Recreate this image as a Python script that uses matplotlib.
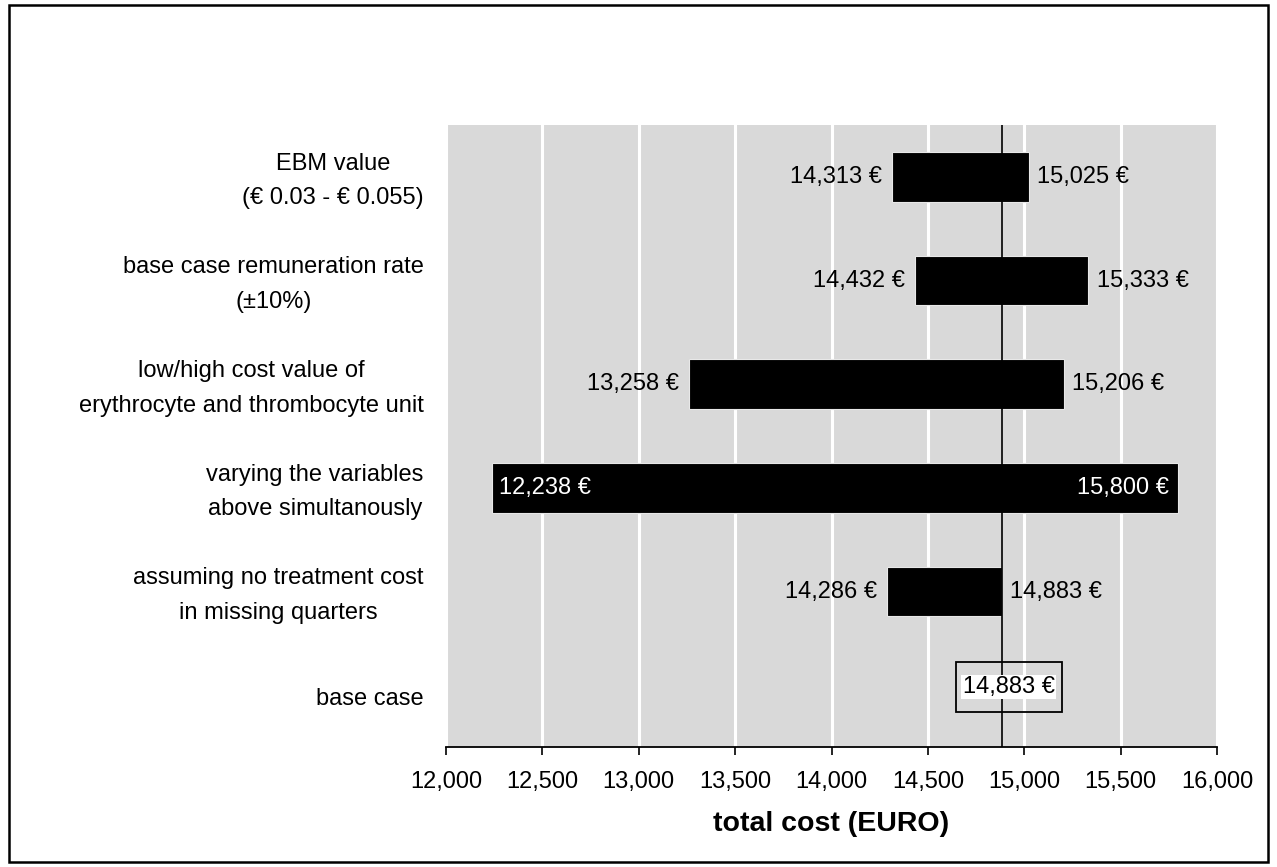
import matplotlib.pyplot as plt
import matplotlib.patches as mpatches
import matplotlib.transforms as mtransforms
import numpy as np

plt.rcParams['font.family'] = ['Liberation Sans', 'DejaVu Sans']

# data
categories = ['EBM value\n(€ 0.03 - € 0.055)',
              'base case remuneration rate\n(±10%)',
              'low/high cost value of\nerythrocyte and thrombocyte unit',
              'varying the variables\nabove simultanously',
              'assuming no treatment cost\nin missing quarters',
              'base case']
low_vals = [14313, 14432, 13258, 12238, 14286]
high_vals = [15025, 15333, 15206, 15800, 14883]
base_value = 14883
inside_labels = [False, False, False, True, False]
xticks = np.arange(12000, 16001, 500)

FS = 17


def euro(v):
    return '{:,} €'.format(v)


fig = plt.figure(figsize=(12.77, 8.67), dpi=100)
ax = fig.add_axes([0.3493, 0.1384, 0.6037, 0.7174])
ax.set_facecolor('#d9d9d9')

# outer frame
fig.patches.append(mpatches.Rectangle((0.007, 0.006), 0.986, 0.988, transform=fig.transFigure,
                                      fill=False, edgecolor='black', linewidth=1.8))

y = np.arange(len(categories))
for i in range(len(low_vals)):
    lo, hi = low_vals[i], high_vals[i]
    ax.barh(y[i], hi - lo, left=lo, height=0.48, color='black',
            edgecolor='#e8e8e8', linewidth=0.8, zorder=3)
    if inside_labels[i]:
        ax.annotate(euro(lo), (lo, y[i]), xytext=(5, 0), textcoords='offset points',
                    ha='left', va='center', color='white', fontsize=FS, zorder=5)
        ax.annotate(euro(hi), (hi, y[i]), xytext=(-7, 0), textcoords='offset points',
                    ha='right', va='center', color='white', fontsize=FS, zorder=5)
    else:
        ax.annotate(euro(lo), (lo, y[i]), xytext=(-7, 0), textcoords='offset points',
                    ha='right', va='center', color='black', fontsize=FS, zorder=5)
        ax.annotate(euro(hi), (hi, y[i]), xytext=(6, 0), textcoords='offset points',
                    ha='left', va='center', color='black', fontsize=FS, zorder=5)

# base case label
base_txt = ax.annotate(euro(base_value), (base_value, y[-1]), xytext=(5, 6),
                       textcoords='offset points', ha='center', va='center',
                       fontsize=FS, zorder=6,
                       bbox=dict(boxstyle='square,pad=0.05', facecolor='white', edgecolor='none'))

ax.axvline(base_value, color='black', linewidth=1.2, zorder=4)

ax.set_xlim(12000, 16000)
ax.set_ylim(len(categories) - 0.5, -0.5)
ax.set_xticks(xticks)
ax.set_xticklabels(['{:,}'.format(v) for v in xticks], fontsize=FS)
ax.set_yticks(y)
ax.set_yticklabels(categories, fontsize=FS)
ax.tick_params(axis='y', length=0, pad=16)
ax.tick_params(axis='x', length=6, width=1.2, direction='out', pad=11, color='black')
shift = mtransforms.ScaledTranslation(0, -3 / 72, fig.dpi_scale_trans)
for lab in ax.get_yticklabels():
    lab.set_multialignment('center')
    lab.set_linespacing(1.75)
    lab.set_verticalalignment('center')
    lab.set_transform(lab.get_transform() + shift)

ax.grid(axis='x', color='white', linewidth=2.2, zorder=1)
ax.set_axisbelow(True)
for s in ['top', 'right', 'left']:
    ax.spines[s].set_visible(False)
ax.spines['bottom'].set_linewidth(1.3)

ax.set_xlabel('total cost (EURO)', fontsize=20.5, fontweight='bold', labelpad=13)

# box around base case label, same height as the bars
fig.canvas.draw()
bb = base_txt.get_window_extent(fig.canvas.get_renderer())
inv = ax.transData.inverted()
(x0, yc0), (x1, yc1) = inv.transform([(bb.x0 - 7, bb.y0), (bb.x1 + 7, bb.y1)])
yc = (yc0 + yc1) / 2
ax.add_patch(mpatches.Rectangle((x0, yc - 0.24), x1 - x0, 0.48, fill=False,
                                edgecolor='black', linewidth=1.3, zorder=5))

fig.savefig('out.png', dpi=100)
